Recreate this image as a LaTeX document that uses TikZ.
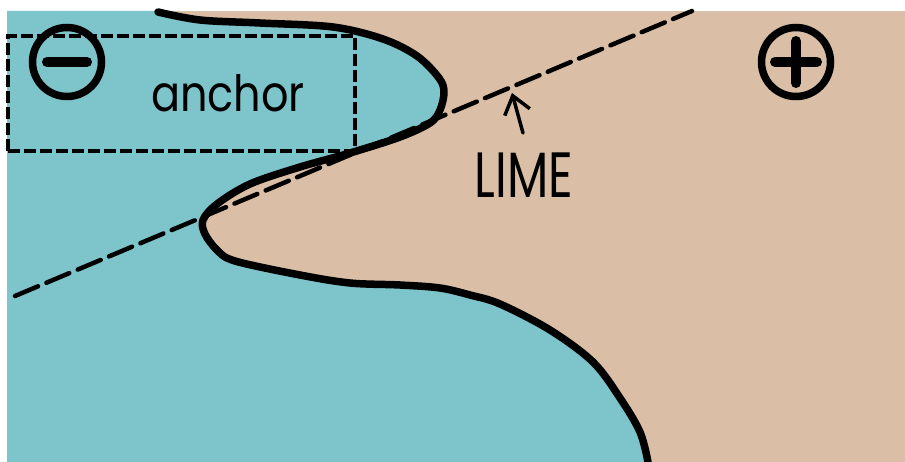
\documentclass[tikz,border=0pt]{standalone}
\usepackage{fontspec}
\newfontfamily\hand{Poppins}
\usetikzlibrary{arrows.meta}
\definecolor{sea}{RGB}{126,197,203}
\definecolor{sand}{RGB}{218,191,166}
\tikzset{
  shore/.style={insert path={plot[smooth,tension=0.55] coordinates {
    (158,12) (200,20) (260,23) (333,27) (383,39) (417,56) (439,78)
    (444,92) (440,110) (430,123) (400,137) (350,153) (300,167)
    (250,184) (217,204) (203,220) (205,234) (217,250) (235,261)
    (300,275) (350,283) (400,285) (440,288) (470,295) (500,304)
    (550,330) (593,362) (620,398) (640,432) (648,462)}}},
  shoreline/.style={line width=7.5pt, line cap=round, line join=round},
  border/.style={line width=4.5pt, dash pattern=on 25pt off 9pt, line cap=round},
  regionbox/.style={draw, line width=4pt, dash pattern=on 12pt off 4pt,
    inner sep=0pt, minimum width=347pt, minimum height=115pt},
  signring/.style={circle, draw, line width=7.5pt, inner sep=0pt, minimum size=69pt},
  signbar/.style={line width=10pt, line cap=round},
  label/.style={inner sep=0pt, text=black},
  pointer/.style={line width=3.5pt, line cap=round,
    -{Straight Barb[length=17pt, width=26pt, line width=3.5pt]}}
}
\begin{document}
\begin{tikzpicture}[x=1pt, y=-1pt]
  \useasboundingbox (0,0) rectangle (905,462);
  \fill[white] (0,0) rectangle (905,462);

  % the two regions
  \fill[sand] (7,11) rectangle (905,462);
  \fill[sea] [shore] -- (7,462) -- (7,11) -- (158,11) -- cycle;

  % the separating line
  \coordinate (lineA) at (15,296);
  \coordinate (lineB) at (692,11);
  \draw[border] (lineA) -- (lineB);

  % the curved class boundary
  \draw[shoreline] [shore];

  % the anchor box and its label
  \node[regionbox] (box) at (181.5,94) {};
  \node[label, font=\hand\fontsize{50}{50}\selectfont] (anchor) at (228,93)
    {\scalebox{0.86}[1]{anchor}};

  % the signs of the two sides
  \node[signring] (neg) at (67,62) {};
  \draw[signbar] ([xshift=-20pt]neg.center) -- ([xshift=20pt]neg.center);
  \node[signring] (pos) at (796,62) {};
  \draw[signbar] ([xshift=-21pt]pos.center) -- ([xshift=21pt]pos.center);
  \draw[signbar] ([yshift=-21pt]pos.center) -- ([yshift=21pt]pos.center);

  % the line's label and its pointer
  \node[label, font=\hand\fontsize{64}{64}\selectfont] (lime) at (524,175)
    {\scalebox{0.75}[1]{LIME}};
  \coordinate (tail) at (523,133);
  \coordinate (tip) at (512,93);
  \draw[pointer] (tail) -- (tip);
\end{tikzpicture}
\end{document}
